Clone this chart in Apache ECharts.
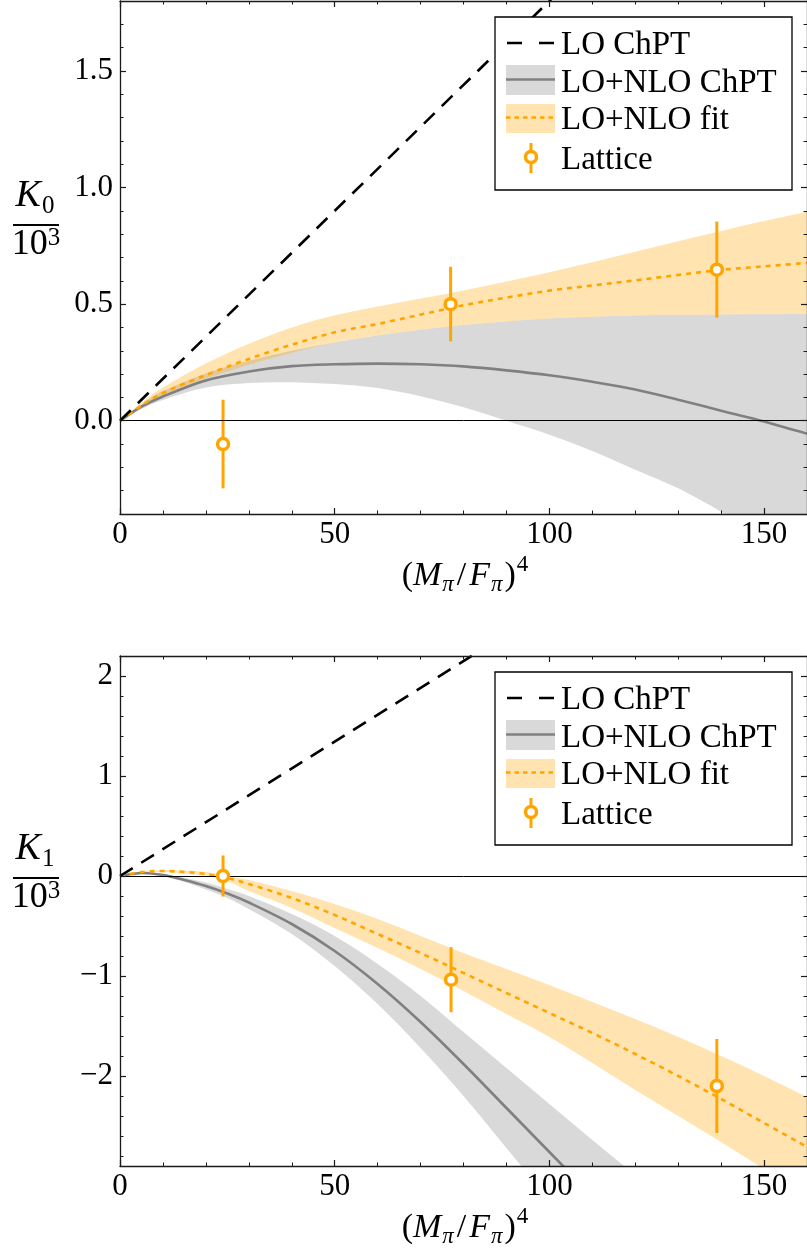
<!DOCTYPE html>
<html><head><meta charset="utf-8">
<script src="https://cdn.jsdelivr.net/npm/echarts@6/dist/echarts.min.js"></script>
<style>html,body{margin:0;padding:0;background:#fff}#c{width:807px;height:1252px}</style>
</head><body><div id="c"></div>
<script>
// ---------------- data ----------------
const xTickLabels = [0, 50, 100, 150];
const xMinorTicks = [10, 20, 30, 40, 60, 70, 80, 90, 110, 120, 130, 140];
const k0TickLabels = [0, 0.5, 1.0, 1.5];
const k0MinorTicks = [-0.3, -0.2, -0.1, 0.1, 0.2, 0.3, 0.4, 0.6, 0.7, 0.8, 0.9, 1.1, 1.2, 1.3, 1.4, 1.6, 1.7];
const k1TickLabels = [-2, -1, 0, 1, 2];
const k1MinorTicks = [-2.8, -2.6, -2.4, -2.2, -1.8, -1.6, -1.4, -1.2, -0.8, -0.6, -0.4, -0.2, 0.2, 0.4, 0.6, 0.8, 1.2, 1.4, 1.6, 1.8];
const legendNames = ['LO ChPT', 'LO+NLO ChPT', 'LO+NLO fit', 'Lattice'];

// K0 panel
const k0LoX = [0, 160];
const k0LoY = [0, 2.88];
const k0X = [0, 5, 10, 20, 30, 40, 50, 60, 70, 80, 90, 100, 110, 120, 130, 140, 150, 160];
const k0NloY = [0, 0.06, 0.104, 0.173, 0.211, 0.234, 0.242, 0.245, 0.242, 0.233, 0.216, 0.195, 0.167, 0.134, 0.09, 0.043, -0.003, -0.056];
const k0NloUpper = [0, 0.07, 0.127, 0.203, 0.257, 0.3, 0.335, 0.365, 0.39, 0.41, 0.426, 0.438, 0.446, 0.451, 0.454, 0.456, 0.457, 0.458];
const k0NloLower = [0, 0.05, 0.089, 0.142, 0.162, 0.165, 0.157, 0.14, 0.105, 0.058, 0.0, -0.06, -0.13, -0.21, -0.29, -0.39, -0.5, -0.63];
const k0FitY = [0, 0.065, 0.119, 0.196, 0.265, 0.326, 0.379, 0.415, 0.455, 0.495, 0.528, 0.558, 0.58, 0.602, 0.625, 0.647, 0.662, 0.677];
const k0FitUpper = [0, 0.078, 0.142, 0.245, 0.33, 0.4, 0.452, 0.49, 0.524, 0.559, 0.597, 0.637, 0.68, 0.725, 0.77, 0.814, 0.856, 0.896];
const k0FitLower = [0, 0.058, 0.105, 0.18, 0.24, 0.292, 0.335, 0.365, 0.39, 0.41, 0.426, 0.438, 0.446, 0.451, 0.454, 0.456, 0.457, 0.458];
const k0LatX = [24, 77, 139];
const k0LatY = [-0.1, 0.5, 0.648];
const k0LatErr = [0.19, 0.16, 0.206];

// K1 panel
const k1LoX = [0, 160];
const k1LoY = [0, 4.3];
const k1NloX = [0, 5, 10, 15, 20, 25, 30, 40, 50, 60, 70, 80, 90, 100, 110, 120];
const k1NloY = [0, 0.03, 0.01, -0.04, -0.1, -0.175, -0.265, -0.48, -0.75, -1.08, -1.46, -1.88, -2.32, -2.76, -3.2, -3.64];
const k1NloUpper = [0, 0.035, 0.02, -0.02, -0.065, -0.13, -0.2, -0.38, -0.6, -0.88, -1.2, -1.56, -1.92, -2.28, -2.64, -2.99];
const k1NloLower = [0, 0.025, 0.0, -0.06, -0.135, -0.22, -0.33, -0.58, -0.9, -1.28, -1.72, -2.2, -2.72, -3.24, -3.76, -4.29];
const k1FitX = [0, 5, 10, 15, 20, 25, 30, 40, 50, 60, 70, 80, 90, 100, 110, 120, 130, 140, 150, 160];
const k1FitY = [0, 0.04, 0.05, 0.04, 0.02, -0.02, -0.08, -0.22, -0.39, -0.58, -0.77, -0.97, -1.17, -1.37, -1.57, -1.78, -2.0, -2.23, -2.47, -2.71];
const k1FitUpper = [0, 0.045, 0.06, 0.055, 0.04, 0.0, -0.04, -0.15, -0.28, -0.43, -0.6, -0.77, -0.93, -1.09, -1.26, -1.43, -1.61, -1.8, -2.0, -2.21];
const k1FitLower = [0, 0.035, 0.04, 0.025, 0.0, -0.05, -0.15, -0.32, -0.52, -0.72, -0.93, -1.15, -1.38, -1.61, -1.87, -2.14, -2.4, -2.66, -2.93, -3.2];
const k1LatX = [24, 77.1, 139];
const k1LatY = [0.0, -1.037, -2.1];
const k1LatErr = [0.205, 0.325, 0.47];

// ---------------- styling ----------------
const FAMILY = 'Liberation Serif, DejaVu Serif, serif';
const ORANGE = '#ffa500';
const ORANGE_BAND = 'rgba(255,165,0,0.3)';
const GREY_LINE = '#808080';
const GREY_BAND = '#d9d9d9';
const AXIS = '#1a1a1a';

function axes(g, dim, min, max, majors, minors, fmt) {
  const isX = dim === 'x';
  const pos = isX ? ['bottom', 'top'] : ['left', 'right'];
  const out = [];
  pos.forEach((p, k) => {
    out.push({
      gridIndex: g, type: 'value', position: p, min: min, max: max, z: 5,
      axisLine: {show: true, onZero: false, lineStyle: {color: AXIS, width: 1.3}},
      axisTick: {show: true, inside: true, length: 6, customValues: majors, lineStyle: {color: AXIS, width: 1.2}},
      axisLabel: k === 0 ? {show: true, customValues: majors, formatter: fmt, margin: isX ? 5 : 7,
        fontFamily: FAMILY, fontSize: 31, color: '#000'} : {show: false},
      splitLine: {show: false}, minorTick: {show: false}, minorSplitLine: {show: false}
    });
    out.push({
      gridIndex: g, type: 'value', position: p, min: min, max: max, z: 5,
      axisLine: {show: false, onZero: false},
      axisTick: {show: true, inside: true, length: 3.5, customValues: minors, lineStyle: {color: AXIS, width: 1}},
      axisLabel: {show: false}, splitLine: {show: false}
    });
  });
  return out;
}

// smooth open curve through pixel points (Catmull-Rom as cubic Bezier), drawing only
function curvePath(pts, start) {
  let d = (start ? 'M' : 'L') + pts[0][0] + ',' + pts[0][1];
  const n = pts.length;
  for (let i = 0; i < n - 1; i++) {
    const p0 = pts[Math.max(i - 1, 0)], p1 = pts[i], p2 = pts[i + 1], p3 = pts[Math.min(i + 2, n - 1)];
    const c1 = [p1[0] + (p2[0] - p0[0]) / 6, p1[1] + (p2[1] - p0[1]) / 6];
    const c2 = [p2[0] - (p3[0] - p1[0]) / 6, p2[1] - (p3[1] - p1[1]) / 6];
    d += 'C' + c1[0] + ',' + c1[1] + ',' + c2[0] + ',' + c2[1] + ',' + p2[0] + ',' + p2[1];
  }
  return d;
}

function band(ai, xs, lo, hi, color) {
  return {
    type: 'custom', xAxisIndex: ai, yAxisIndex: ai, clip: true, z: 1, silent: true,
    data: xs.map((x, i) => [x, lo[i], hi[i]]),
    encode: {x: 0, y: [1, 2]},
    renderItem: function (params, api) {
      if (params.dataIndex !== 0) return null;
      const up = xs.map((x, i) => api.coord([x, hi[i]]));
      const dn = xs.map((x, i) => api.coord([x, lo[i]])).reverse();
      const d = curvePath(up, true) + curvePath(dn, false) + 'Z';
      return {type: 'path', shape: {pathData: d}, style: {fill: color, stroke: null}};
    }
  };
}

function curve(ai, xs, ys, color, width, dash, z) {
  return {
    type: 'custom', xAxisIndex: ai, yAxisIndex: ai, clip: true, z: z, silent: true,
    data: xs.map((x, i) => [x, ys[i]]),
    encode: {x: 0, y: 1},
    renderItem: function (params, api) {
      if (params.dataIndex !== 0) return null;
      const pts = xs.map((x, i) => api.coord([x, ys[i]]));
      return {type: 'path', shape: {pathData: curvePath(pts, true)},
        style: {fill: null, stroke: color, lineWidth: width, lineDash: dash, lineCap: 'butt', lineJoin: 'round'}};
    }
  };
}

function straight(ai, xs, ys, color, width, dash, z, extra) {
  return Object.assign({
    type: 'line', xAxisIndex: ai, yAxisIndex: ai, z: z, silent: true,
    data: xs.map((x, i) => [x, ys[i]]), showSymbol: false, symbol: 'none',
    lineStyle: {color: color, width: width, type: dash}
  }, extra || {});
}

function lattice(ai, xs, ys, es) {
  return [{
    type: 'custom', xAxisIndex: ai, yAxisIndex: ai, z: 4, silent: true, clip: true,
    data: xs.map((x, i) => [x, ys[i], es[i]]),
    encode: {x: 0, y: 1},
    renderItem: function (params, api) {
      const x = api.value(0), y = api.value(1), e = api.value(2);
      const p1 = api.coord([x, y - e]), p2 = api.coord([x, y + e]);
      return {type: 'line', shape: {x1: p1[0], y1: p1[1], x2: p2[0], y2: p2[1]},
        style: {stroke: ORANGE, lineWidth: 3}};
    }
  }, {
    type: 'scatter', xAxisIndex: ai, yAxisIndex: ai, z: 5, silent: true,
    data: xs.map((x, i) => [x, ys[i]]),
    symbol: 'circle', symbolSize: 11,
    itemStyle: {color: '#fff', borderColor: ORANGE, borderWidth: 3.5, opacity: 1}
  }];
}

const zeroMark = {
  markLine: {symbol: 'none', silent: true, animation: false, label: {show: false},
    lineStyle: {color: '#000', width: 1, type: 'solid'}, emphasis: {disabled: true},
    data: [{yAxis: 0}]}
};

// text helpers for math-like labels
const mctx = document.createElement('canvas').getContext('2d');
function fontOf(p) { return (p.i ? 'italic ' : '') + p.s + 'px ' + FAMILY; }
function textEl(t, x, y, size, italic, z) {
  return {type: 'text', z: z || 100, x: x, y: y,
    style: {text: t, fontSize: size, fontFamily: FAMILY, fontStyle: italic ? 'italic' : 'normal',
      fill: '#000', align: 'left', textAlign: 'left', verticalAlign: 'middle', textVerticalAlign: 'middle'}};
}
function mathRow(pieces, cx, cy) {
  let total = 0;
  const ws = pieces.map(p => { mctx.font = fontOf(p); const w = mctx.measureText(p.t).width + (p.k || 0); total += w; return w; });
  let x = cx - total / 2;
  const els = [];
  pieces.forEach((p, idx) => {
    els.push(textEl(p.t, x, cy + (p.dy || 0), p.s, p.i));
    x += ws[idx];
  });
  return els;
}

function xTitle(cy) {
  return mathRow([
    {t: '(', s: 34}, {t: 'M', s: 34, i: 1, k: 1}, {t: 'π', s: 23, i: 1, dy: 9, k: 3},
    {t: '/', s: 34, k: 3}, {t: 'F', s: 34, i: 1, k: 1}, {t: 'π', s: 23, i: 1, dy: 9, k: 2},
    {t: ')', s: 34, k: 1}, {t: '4', s: 23, dy: -11}
  ], 465, cy);
}

function yTitle(sub, lineY) {
  const els = [];
  els.push(...mathRow([{t: 'K', s: 38, i: 1, k: 1}, {t: sub, s: 25, dy: 10}], 35, lineY - 29));
  els.push({type: 'line', z: 100, shape: {x1: 13, y1: lineY, x2: 59, y2: lineY}, style: {stroke: '#000', lineWidth: 2.2}});
  els.push(...mathRow([{t: '10', s: 36}, {t: '3', s: 25, dy: -7}], 36, lineY + 20));
  return els;
}

function legend(top) {
  const L = 495, W = 297, H = 173;
  const els = [];
  els.push({type: 'rect', z: 100, shape: {x: L, y: top, width: W, height: H},
    style: {fill: '#fff', stroke: '#000', lineWidth: 1.3}});
  const tx = 561;
  const ts = (t, y) => textEl(t, tx, y, 33, false, 101);
  els.push({type: 'line', z: 101, shape: {x1: 507, y1: top + 26, x2: 554, y2: top + 26},
    style: {stroke: '#000', lineWidth: 2.6, lineDash: [15, 17]}});
  els.push(ts(legendNames[0], top + 28));
  els.push({type: 'rect', z: 101, shape: {x: 506, y: top + 48, width: 49, height: 30}, style: {fill: GREY_BAND}});
  els.push({type: 'line', z: 102, shape: {x1: 506, y1: top + 62.5, x2: 555, y2: top + 62.5},
    style: {stroke: GREY_LINE, lineWidth: 2.6}});
  els.push(ts(legendNames[1], top + 66));
  els.push({type: 'rect', z: 101, shape: {x: 506, y: top + 87, width: 49, height: 29}, style: {fill: ORANGE_BAND}});
  els.push({type: 'line', z: 102, shape: {x1: 506, y1: top + 100.5, x2: 555, y2: top + 100.5},
    style: {stroke: ORANGE, lineWidth: 2.6, lineDash: [4.5, 4]}});
  els.push(ts(legendNames[2], top + 103.5));
  els.push({type: 'line', z: 101, shape: {x1: 531, y1: top + 126, x2: 531, y2: top + 156},
    style: {stroke: ORANGE, lineWidth: 3}});
  els.push({type: 'circle', z: 102, shape: {cx: 531, cy: top + 140, r: 5.5},
    style: {fill: '#fff', stroke: ORANGE, lineWidth: 3.5}});
  els.push(ts(legendNames[3], top + 143));
  return els;
}

const fmtX = v => String(v);
const fmtK0 = v => Number(v).toFixed(1);
const fmtK1 = v => (v < 0 ? '\u2212' + Math.abs(v) : String(v));

const option = {
  animation: false,
  backgroundColor: '#fff',
  grid: [
    {left: 120, top: 1, width: 687, height: 513, containLabel: false, outerBoundsMode: 'none'},
    {left: 120, top: 656, width: 687, height: 510, containLabel: false, outerBoundsMode: 'none'}
  ],
  xAxis: [].concat(
    axes(0, 'x', 0, 160, xTickLabels, xMinorTicks, fmtX),
    axes(1, 'x', 0, 160, xTickLabels, xMinorTicks, fmtX)
  ),
  yAxis: [].concat(
    axes(0, 'y', -0.4, 1.8, k0TickLabels, k0MinorTicks, fmtK0),
    axes(1, 'y', -2.9, 2.2, k1TickLabels, k1MinorTicks, fmtK1)
  ),
  series: [
    band(0, k0X, k0NloLower, k0NloUpper, GREY_BAND),
    band(0, k0X, k0FitLower, k0FitUpper, ORANGE_BAND),
    straight(0, k0LoX, k0LoY, '#000', 2.6, [15, 10], 3, zeroMark),
    curve(0, k0X, k0NloY, GREY_LINE, 2.6, null, 3),
    curve(0, k0X, k0FitY, ORANGE, 2.6, [5, 5], 3),
    ...lattice(0, k0LatX, k0LatY, k0LatErr),

    band(4, k1NloX, k1NloLower, k1NloUpper, GREY_BAND),
    band(4, k1FitX, k1FitLower, k1FitUpper, ORANGE_BAND),
    straight(4, k1LoX, k1LoY, '#000', 2.6, [15, 10], 3, zeroMark),
    curve(4, k1NloX, k1NloY, GREY_LINE, 2.6, null, 3),
    curve(4, k1FitX, k1FitY, ORANGE, 2.6, [5, 5], 3),
    ...lattice(4, k1LatX, k1LatY, k1LatErr)
  ],
  graphic: {elements: [].concat(
    legend(17), legend(672),
    xTitle(576), xTitle(1228),
    yTitle('0', 225), yTitle('1', 878)
  )}
};

const chart = echarts.init(document.getElementById('c'), null, {renderer: 'canvas'});
chart.setOption(option);
</script>
</body></html>
